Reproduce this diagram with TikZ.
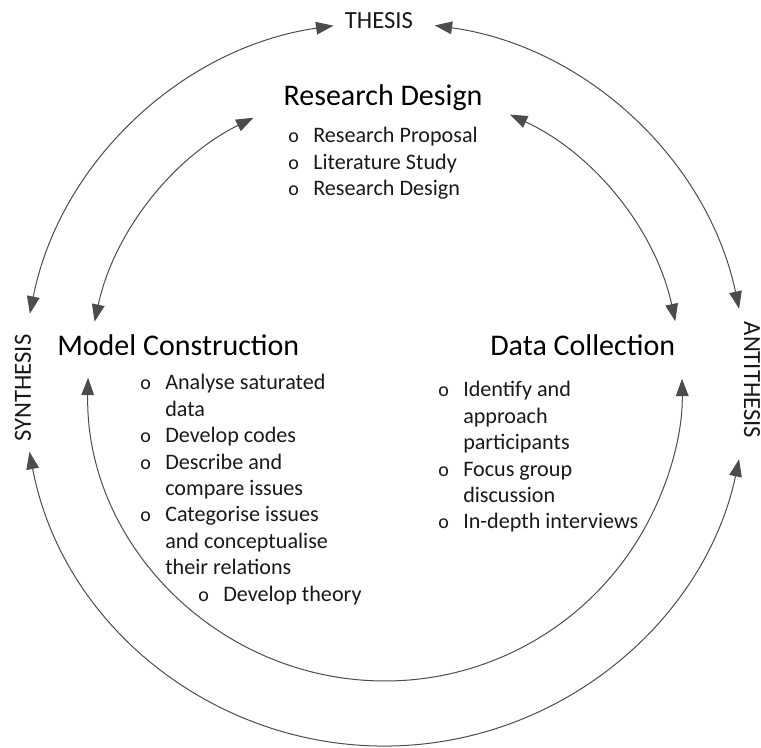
\documentclass[tikz,border=0pt]{standalone}
\usepackage{fontspec}
\setmainfont{Carlito}
\usetikzlibrary{calc,arrows.meta}
\def\itemlist#1{\begin{tabular}[t]{@{}p{18.75pt}@{}l@{}}#1\end{tabular}}
\def\bul{{\fontsize{15}{19.8}\selectfont o}}

\begin{document}
\begin{tikzpicture}[x=0.75pt, y=0.75pt,
		ringarrow/.style={line width=0.75pt, color=black!70, {Triangle[length=13pt,width=9.5pt]}-{Triangle[length=13pt,width=9.5pt]}},
		pole/.style={font=\fontsize{18.5}{22}\selectfont, inner sep=0pt, text=black!90},
		head/.style={font=\fontsize{22.5}{27}\selectfont, inner sep=0pt, anchor=base west, text=black},
		list/.style={font=\fontsize{16.6}{19.8}\selectfont, inner sep=0pt, anchor=base west, text=black!90}]
			%%%%% START %%%%%
			
			\useasboundingbox (0, 0) rectangle (761, 747);
			\coordinate (c) at (385, 363);
			
			% outer ring: thesis, antithesis, synthesis
			\coordinate (th-w) at ($(c)+(98.2:362)$);
			\coordinate (th-e) at ($(c)+(82.1:362)$);
			\coordinate (sy-n) at ($(c)+(168.8:362)$);
			\coordinate (sy-s) at ($(c)+(190.8:362)$);
			\coordinate (an-n) at ($(c)+(12.0:362)$);
			\coordinate (an-s) at ($(c)+(348.0:362)$);
			
			\draw[ringarrow] (th-w) arc[start angle=98.2, end angle=168.8, radius=362];
			\draw[ringarrow] (th-e) arc[start angle=82.1, end angle=12.0, radius=362];
			\draw[ringarrow] (sy-s) arc[start angle=190.8, end angle=348.0, radius=362];
			
			% inner ring: the three phases
			\coordinate (rd-w) at ($(c)+(116.3:297)$);
			\coordinate (rd-e) at ($(c)+(65.1:297)$);
			\coordinate (mc-n) at ($(c)+(167.9:297)$);
			\coordinate (mc-s) at ($(c)+(178.8:297)$);
			\coordinate (dc-n) at ($(c)+(12.2:297)$);
			\coordinate (dc-s) at ($(c)+(1.0:297)$);
			
			\draw[ringarrow] (rd-w) arc[start angle=116.3, end angle=167.9, radius=297];
			\draw[ringarrow] (rd-e) arc[start angle=65.1, end angle=12.2, radius=297];
			\draw[ringarrow] (mc-s) arc[start angle=178.8, end angle=361.0, radius=297];
			
			\node[pole] (thesis) at (379, 726) {THESIS};
			\node[pole, rotate=90] (synthesis) at (23, 359) {SYNTHESIS};
			\node[pole, rotate=-90] (antithesis) at (752, 367) {ANTITHESIS};
			
			\node[head, anchor=base] (rd) at (383, 641) {Research Design};
			\node[list] (rd-list) at (288, 604) {\itemlist{\bul & Research Proposal\\ \bul & Literature Study\\ \bul & Research Design}};
			
			\node[head] (mc) at (57, 391) {Model Construction};
			\node[list] (mc-list) at (140, 357) {\itemlist{\bul & Analyse saturated\\ & data\\ \bul & Develop codes\\ \bul & Describe and\\ & compare issues\\ \bul & Categorise issues\\ & and conceptualise\\ & their relations}};
			\node[list] (mc-last) at (198, 146) {\itemlist{\bul & Develop theory}};
			
			\node[head] (dc) at (490, 391) {Data Collection};
			\node[list] (dc-list) at (438, 350) {\itemlist{\bul & Identify and\\ & approach\\ & participants\\ \bul & Focus group\\ & discussion\\ \bul & In-depth interviews}};
			
			%%%%% END %%%%%
		\end{tikzpicture}
\end{document}
